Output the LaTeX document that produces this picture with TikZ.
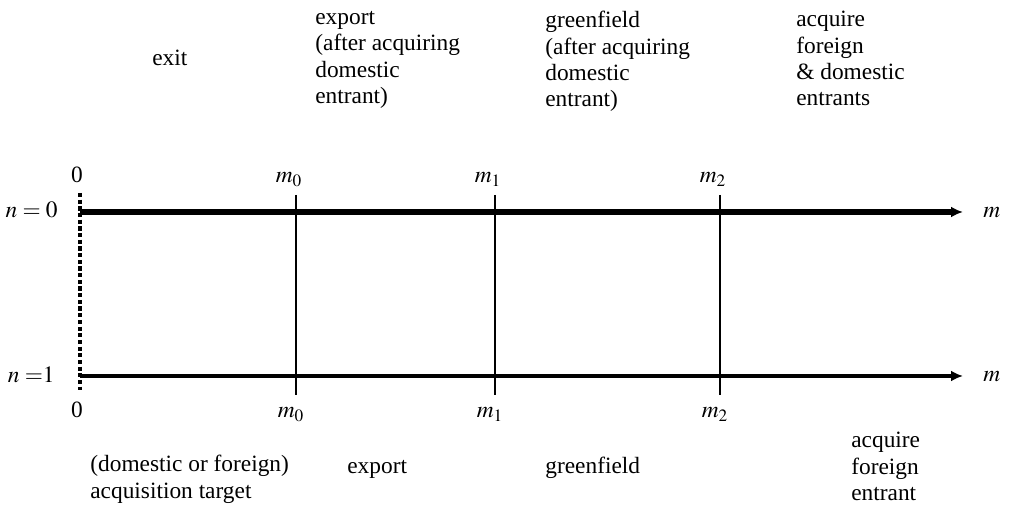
\documentclass[tikz,border=0pt]{standalone}
\usepackage{mathptmx}
\usepackage{fontspec}
\setmainfont{Liberation Serif}
\usetikzlibrary{positioning,arrows.meta}
\tikzset{
  >={Latex[length=2.4mm,width=2.2mm]},
  every node/.style={font=\fontsize{13.3}{15}\selectfont, inner sep=0pt},
  txt/.style={align=left, anchor=north west, execute at begin node=\strut},
  lbl/.style={anchor=base},
  axisthick/.style={->, line width=3.2pt},
  axisthin/.style={->, line width=2.1pt},
  tick/.style={line width=1.1pt},
  zeroline/.style={line width=2pt, dash pattern=on 2.4pt off 1.4pt},
}

\begin{document}
\begin{tikzpicture}[x=0.02cm, y=-0.02cm]
  \useasboundingbox (0,0) rectangle (1009,506);

  % axis ends
  \coordinate (a0s) at (80,212);
  \coordinate (a0e) at (963,212);
  \coordinate (a1s) at (80,376);
  \coordinate (a1e) at (963,376);
  \coordinate (ztop) at (80,193);
  \coordinate (zbot) at (80,390);

  % row labels
  \node[anchor=base east] (n0) at (58,218) {$n = 0$};
  \node[anchor=base east] (n1) at (55,383) {$n\;{=}1$};
  \node[anchor=base west] (m0r) at (983,218) {$m$};
  \node[anchor=base west] (m1r) at (983,382) {$m$};

  % zero marks
  \node[lbl] (z0) at (77,183) {0};
  \node[lbl] (z1) at (77,418) {0};
  \draw[zeroline] (ztop) -- (zbot);

  % thresholds m_0, m_1, m_2
  \foreach \i/\x in {0/296, 1/495, 2/720} {
    \coordinate (tt\i) at (\x,195);
    \coordinate (tb\i) at (\x,395);
    \draw[tick] (tt\i) -- (tb\i);
    \node[lbl] (mt\i) at (\x-7,183) {$m_{\i}$};
    \node[lbl] (mb\i) at (\x-5,418) {$m_{\i}$};
  }

  % the two lines
  \draw[axisthick] (a0s) -- (a0e);
  \draw[axisthin] (a1s) -- (a1e);

  % regions for n = 0
  \node[txt] (exit) at (152,47) {exit};
  \node[txt] (expA) at (315,11) {export\\(after acquiring\\domestic\\entrant)};
  \node[txt] (grnA) at (545,11) {greenfield\\(after acquiring\\domestic\\entrant)};
  \node[txt] (acqA) at (796,11) {acquire\\foreign\\\& domestic\\entrants};

  % regions for n = 1
  \node[txt] (tgt) at (90,455) {(domestic or foreign)\\acquisition target};
  \node[txt] (expB) at (347,455) {export};
  \node[txt] (grnB) at (545,455) {greenfield};
  \node[txt] (acqB) at (851,432) {acquire\\foreign\\entrant};
\end{tikzpicture}
\end{document}
